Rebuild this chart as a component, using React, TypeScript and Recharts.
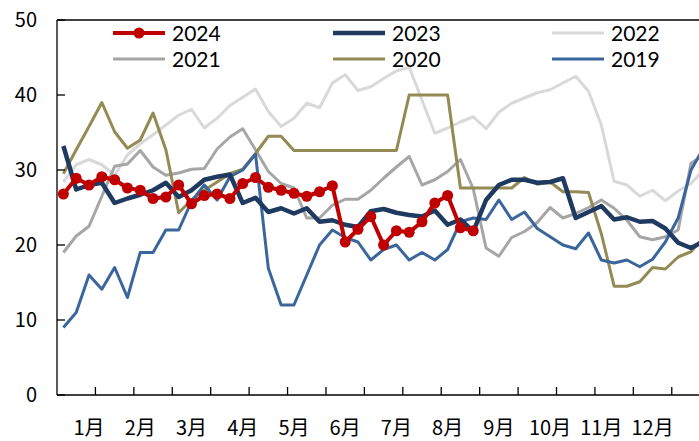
import React from "react";
import { LineChart, Line, XAxis, YAxis, ReferenceLine, Legend } from "recharts";

const FONT = '"Noto Sans CJK SC", "Noto Sans", sans-serif';
const LEGEND_FONT = 'Lato, "Noto Sans", sans-serif';

const months = ["1月", "2月", "3月", "4月", "5月", "6月", "7月", "8月", "9月", "10月", "11月", "12月"];
const yTicks = [0, 10, 20, 30, 40, 50];

// weekly values, one per week from the first week of January
const s2024 = [
  26.8, 28.9, 28.0, 29.1, 28.7, 27.6, 27.3, 26.2, 26.4, 28.0,
  25.5, 26.6, 26.8, 26.2, 28.2, 29.0, 27.7, 27.3, 26.9, 26.5,
  27.1, 27.9, 20.4, 22.1, 23.8, 20.0, 21.9, 21.7, 23.1, 25.6,
  26.6, 22.3, 21.9,
];
const s2023 = [
  33.2, 27.4, 28.0, 28.3, 25.6, 26.2, 26.7, 27.3, 28.3, 26.4,
  27.3, 28.7, 29.1, 29.4, 25.6, 26.3, 24.4, 24.9, 24.2, 24.9,
  23.1, 23.3, 22.7, 22.4, 24.5, 24.8, 24.3, 24.0, 23.8, 24.6,
  22.7, 23.4, 21.8, 26.0, 28.0, 28.7, 28.7, 28.3, 28.4, 28.9,
  23.6, 24.4, 25.2, 23.4, 23.7, 23.1, 23.2, 22.2, 20.3, 19.6,
  20.5,
];
const s2022 = [
  28.4, 30.7, 31.4, 30.7, 29.3, 32.0, 33.5, 34.7, 36.0, 37.3,
  38.1, 35.6, 36.9, 38.6, 39.7, 40.8, 37.8, 35.8, 36.9, 38.9,
  38.3, 41.6, 42.7, 40.6, 41.1, 42.2, 43.2, 43.7, 39.3, 34.9,
  35.6, 36.4, 37.1, 35.5, 37.7, 38.9, 39.6, 40.3, 40.7, 41.6,
  42.5, 40.5, 36.0, 28.5, 28.0, 26.5, 27.3, 25.9, 27.2, 28.2,
  30.0,
];
const s2021 = [
  19.0, 21.2, 22.5, 26.5, 30.5, 30.8, 32.6, 30.4, 29.3, 29.6,
  30.1, 30.2, 32.8, 34.4, 35.5, 32.7, 29.8, 28.2, 27.6, 23.6,
  23.6, 25.3, 26.1, 26.1, 27.3, 28.9, 30.4, 31.8, 28.0, 28.7,
  29.8, 31.4, 27.5, 19.6, 18.5, 21.0, 21.8, 23.0, 25.0, 23.6,
  24.2, 25.0, 26.0, 24.9, 23.3, 21.1, 20.7, 21.1, 22.0, 30.9,
  32.0,
];
const s2020 = [
  29.5, 32.7, 35.8, 39.0, 35.1, 32.9, 34.0, 37.6, 32.7, 24.3,
  26.0, 27.3, 28.4, 29.5, 30.1, 32.2, 34.5, 34.5, 32.6, 32.6,
  32.6, 32.6, 32.6, 32.6, 32.6, 32.6, 32.6, 40.0, 40.0, 40.0,
  40.0, 27.6, 27.6, 27.6, 27.6, 27.6, 29.0, 28.1, 28.4, 27.1,
  27.1, 27.0, 21.5, 14.5, 14.5, 15.1, 17.0, 16.8, 18.4, 19.1,
  21.0,
];
const s2019 = [
  9.0, 11.0, 16.0, 14.1, 17.0, 13.0, 19.0, 19.0, 22.0, 22.0,
  25.8, 28.0, 26.0, 29.1, 30.0, 32.1, 16.9, 12.0, 12.0, 16.0,
  20.0, 22.0, 21.0, 20.4, 18.0, 19.4, 20.0, 18.0, 19.0, 18.0,
  19.4, 23.1, 23.6, 23.4, 26.0, 23.4, 24.4, 22.2, 21.1, 20.0,
  19.5, 21.6, 18.0, 17.6, 18.0, 17.1, 18.1, 20.4, 23.6, 30.0,
  33.0,
];

const series = [
  { key: "y2022", name: "2022", color: "#D9D9D9", width: 3, values: s2022 },
  { key: "y2021", name: "2021", color: "#A6A6A6", width: 3, values: s2021 },
  { key: "y2020", name: "2020", color: "#948A54", width: 3, values: s2020 },
  { key: "y2019", name: "2019", color: "#3B669B", width: 3, values: s2019 },
  { key: "y2023", name: "2023", color: "#1F3A60", width: 4.5, values: s2023 },
  { key: "y2024", name: "2024", color: "#C00000", width: 4, values: s2024, dot: true },
];
const legendOrder = ["y2024", "y2023", "y2022", "y2021", "y2020", "y2019"];
const legendCols = [113, 333, 552];

const data = s2019.map((_, i) => {
  const row: Record<string, number | undefined> = { x: i + 0.5 };
  series.forEach((s) => {
    row[s.key] = s.values[i];
  });
  return row;
});

// month labels sit on every 4th week, tick marks every 3rd week boundary
const monthTicks = months.map((_, k) => 2.5 + 4 * k);
const boundaryTicks = Array.from({ length: 17 }, (_, k) => 3 * (k + 1));
const xTicks = [...monthTicks, ...boundaryTicks].sort((a, b) => a - b);

function XTick({ x = 0, y = 0, payload }: any) {
  const k = monthTicks.indexOf(payload?.value);
  if (k >= 0) {
    return (
      <text x={x} y={y + 40} textAnchor="middle" fontSize={20} fontFamily={FONT} fill="#000">
        {months[k]}
      </text>
    );
  }
  return <line x1={x} y1={y} x2={x} y2={y - 8} stroke="#000" strokeWidth={1.3} />;
}

function YTick({ x = 0, y = 0, payload }: any) {
  return (
    <g>
      <line x1={x} y1={y} x2={x + 8} y2={y} stroke="#000" strokeWidth={1.3} />
      <text x={x - 20} y={y + 7} textAnchor="end" fontSize={20} fontFamily={FONT} fill="#000">
        {payload?.value}
      </text>
    </g>
  );
}

function LegendBox() {
  return (
    <div style={{ position: "relative", width: 699, height: 52, fontFamily: LEGEND_FONT, fontSize: 21 }}>
      {legendOrder.map((key, idx) => {
        const s = series.find((d) => d.key === key)!;
        const col = idx % 3;
        const row = Math.floor(idx / 3);
        return (
          <div
            key={key}
            style={{
              position: "absolute",
              left: legendCols[col],
              top: row * 26,
              height: 26,
              display: "flex",
              alignItems: "center",
              whiteSpace: "nowrap",
            }}
          >
            <svg width={52} height={14}>
              <line x1={0} y1={7} x2={52} y2={7} stroke={s.color} strokeWidth={s.width} />
              {s.dot && <circle cx={26} cy={7} r={5.5} fill={s.color} />}
            </svg>
            <span style={{ marginLeft: 7, lineHeight: "26px", color: "#000" }}>{s.name}</span>
          </div>
        );
      })}
    </div>
  );
}

export default function App() {
  return (
    <div
      style={{
        position: "absolute",
        left: 0,
        top: 0,
        width: 699,
        height: 441,
        overflow: "hidden",
        background: "#fff",
      }}
    >
      <LineChart
        width={723}
        height={441}
        data={data}
        margin={{ top: 20, right: 0, bottom: 0, left: 0 }}
      >
        <XAxis
          dataKey="x"
          type="number"
          domain={[0, 52]}
          ticks={xTicks}
          interval={0}
          tick={<XTick />}
          tickLine={false}
          tickSize={0}
          tickMargin={0}
          height={46}
          axisLine={{ stroke: "#000", strokeWidth: 1.3 }}
          allowDataOverflow
        />
        <YAxis
          type="number"
          domain={[0, 50]}
          ticks={yTicks}
          interval={0}
          tick={<YTick />}
          tickLine={false}
          tickSize={0}
          tickMargin={0}
          width={57}
          axisLine={{ stroke: "#000", strokeWidth: 1.3 }}
        />
        <ReferenceLine y={50} stroke="#000" strokeWidth={1.3} />
        <Legend
          layout="vertical"
          verticalAlign="middle"
          align="center"
          content={() => <LegendBox />}
          wrapperStyle={{ top: 20, left: 0, width: 699 }}
        />
        {series.map((s) => (
          <Line
            key={s.key}
            type="linear"
            dataKey={s.key}
            name={s.name}
            stroke={s.color}
            strokeWidth={s.width}
            strokeLinejoin="round"
            dot={s.dot ? { r: 5.5, fill: s.color, stroke: s.color, strokeWidth: 0 } : false}
            activeDot={false}
            isAnimationActive={false}
          />
        ))}
      </LineChart>
    </div>
  );
}
